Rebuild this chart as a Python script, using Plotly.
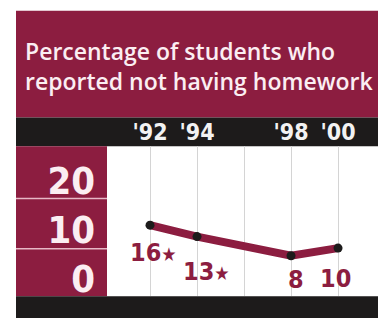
import plotly.graph_objects as go

# Survey years and share of students reporting no homework (%)
years = [1992, 1994, 1998, 2000]
pct_no_homework = [16, 13, 8, 10]
significant = [True, True, False, False]   # starred values
year_labels = ["'92", "'94", "'98", "'00"]
scale_ticks = [0, 10, 20]

MAROON = "#8c1d40"
BLACK = "#1d1b1b"
W, H = 378, 322
NARROW = "DejaVu Sans Condensed, Liberation Sans Narrow, Arial Narrow, sans-serif"


def px_x(p):
    return p / W


def px_y(p):
    return 1 - p / H


fig = go.Figure()

fig.add_trace(go.Scatter(
    x=years, y=pct_no_homework, mode="lines+markers",
    line=dict(color=MAROON, width=8),
    marker=dict(color=BLACK, size=9),
    hoverinfo="skip", showlegend=False,
))

# value labels under each point
label_offsets = [(3, -27), (9, -35), (5, -24), (-3, -30)]
for x, v, star, (dx, dy) in zip(years, pct_no_homework, significant, label_offsets):
    txt = f"{v}" + ("<span style='font-size:19px'>★</span>" if star else "")
    fig.add_annotation(
        x=x, y=v, xref="x", yref="y", text=txt, showarrow=False,
        xshift=dx, yshift=dy,
        font=dict(family=NARROW, size=25, color=MAROON, weight="bold"),
    )

# background blocks
shapes = [
    dict(x0=16, x1=378, y0=11, y1=119, color=MAROON),
    dict(x0=16, x1=378, y0=119, y1=148, color=BLACK),
    dict(x0=16, x1=107, y0=148, y1=300, color=MAROON),
    dict(x0=16, x1=378, y0=300, y1=322, color=BLACK),
]
for s in shapes:
    fig.add_shape(type="rect", xref="paper", yref="paper",
                  x0=px_x(s["x0"]), x1=px_x(s["x1"]),
                  y0=px_y(s["y1"]), y1=px_y(s["y0"]),
                  fillcolor=s["color"], line_width=0, layer="below")

# thin row separators in the scale column
for py in (201, 252):
    fig.add_shape(type="line", xref="paper", yref="paper",
                  x0=px_x(16), x1=px_x(107), y0=px_y(py), y1=px_y(py),
                  line=dict(color="#e7b8c6", width=1.5), layer="below")

# two-line title
title_text = "Percentage of students who<br>reported not having homework"
fig.add_annotation(
    x=px_x(23), y=px_y(33), xref="paper", yref="paper",
    xanchor="left", yanchor="top", align="left", text=title_text, showarrow=False,
    font=dict(family="Open Sans", size=23, color="#fbeef2", weight=600),
)

dom_x = [px_x(107), 1]
dom_y = [px_y(300), px_y(148)]

fig.update_layout(
    width=W, height=H,
    margin=dict(l=0, r=0, t=0, b=0),
    paper_bgcolor="white",
    plot_bgcolor="rgba(0,0,0,0)",
    xaxis=dict(
        domain=dom_x, range=[1990.17, 2001.70],
        side="top", tickvals=years, ticktext=year_labels,
        ticks="", showline=False, zeroline=False,
        showgrid=True, gridcolor="#d4d4d4", gridwidth=1,
        minor=dict(dtick=2, tick0=1992, showgrid=True, gridcolor="#d4d4d4", gridwidth=1),
        tickfont=dict(family=NARROW, size=23, color="#f2f2f2", weight="bold"),
        ticklabelstandoff=1,
    ),
    yaxis=dict(
        domain=dom_y, range=[-2.61, 36.67],
        showticklabels=False, showgrid=False, zeroline=False, showline=False,
    ),
    yaxis2=dict(
        domain=dom_y, range=[-3.64, 27.07], overlaying="y", anchor="x", side="left",
        tickvals=scale_ticks, ticks="", showgrid=False, zeroline=False, showline=False,
        tickfont=dict(family=NARROW, size=38, color="#fbeef2", weight="bold"),
        ticklabelstandoff=11,
    ),
)

# invisible trace to activate the scale axis
fig.add_trace(go.Scatter(x=[years[0]], y=[scale_ticks[0]], yaxis="y2",
                         mode="markers", marker=dict(opacity=0),
                         hoverinfo="skip", showlegend=False))

fig.write_html("out.html")
